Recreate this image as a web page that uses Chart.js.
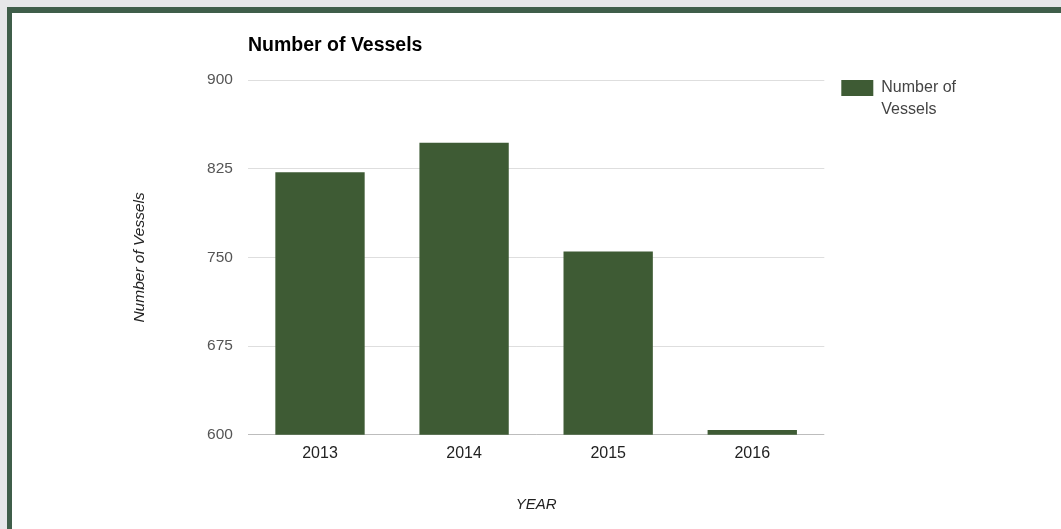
<!DOCTYPE html>
<html>
<head>
<meta charset="utf-8">
<script src="https://cdn.jsdelivr.net/npm/chart.js@4/dist/chart.umd.min.js"></script>
<style>
  html, body { margin: 0; padding: 0; }
  body { width: 1061px; height: 529px; background: #e6e7e9; overflow: hidden; position: relative; }
  .frame {
    position: absolute; left: 7px; top: 7px; right: 0; bottom: 0;
    background: #fff;
    border-left: 5px solid #3f5e4a;
    border-top: 6px solid #3f5e4a;
  }
  .box { position: absolute; left: 0; top: 0; width: 1049px; height: 516px; }
</style>
</head>
<body>
<div class="frame">
  <div class="box"><canvas id="chart"></canvas></div>
</div>
<script>
// Data
const years = ['2013', '2014', '2015', '2016'];
const vessels = [822, 847, 755, 604];
const yTicks = [600, 675, 750, 825, 900];

const FONT = "'Liberation Sans', Arial, sans-serif";
const BAR = '#3e5b34';

// nudge the legend up so the swatch lines up with the top gridline
const legendShift = {
  id: 'legendShift',
  afterLayout(chart) {
    const lg = chart.legend;
    lg.top -= 17;
    lg.bottom -= 17;
  }
};

new Chart(document.getElementById('chart'), {
  type: 'bar',
  data: {
    labels: years,
    datasets: [{
      label: 'Number of Vessels',
      data: vessels,
      backgroundColor: BAR,
      borderWidth: 0,
      barPercentage: 0.62,
      categoryPercentage: 1
    }]
  },
  options: {
    responsive: true,
    maintainAspectRatio: false,
    animation: false,
    layout: { padding: { top: 0, right: 95, bottom: 0, left: 0 } },
    scales: {
      y: {
        min: yTicks[0],
        max: yTicks[yTicks.length - 1],
        afterBuildTicks: s => { s.ticks = yTicks.map(v => ({ value: v })); },
        border: { display: false },
        grid: {
          drawTicks: false,
          color: c => c.tick && c.tick.value === yTicks[0] ? '#bdbdbd' : '#dedede'
        },
        ticks: { padding: 15, color: '#555', font: { family: FONT, size: 15.5 } },
        title: {
          display: true,
          text: 'Number of Vessels',
          color: '#222',
          font: { family: FONT, size: 15.5, style: 'italic' },
          padding: { top: 118.7, bottom: 42.8 }
        }
      },
      x: {
        border: { display: false },
        grid: { display: false, drawTicks: false },
        ticks: { padding: 9, color: '#222', font: { family: FONT, size: 16 } },
        title: {
          display: true,
          text: 'YEAR',
          color: '#222',
          font: { family: FONT, size: 15, style: 'italic' },
          padding: { top: 24, bottom: 15 }
        }
      }
    },
    plugins: {
      title: {
        display: true,
        text: 'Number of Vessels',
        align: 'start',
        fullSize: false,
        color: '#000',
        font: { family: FONT, size: 19.5, weight: 'bold' },
        padding: { top: 21.3, bottom: 22.3 }
      },
      legend: {
        position: 'right',
        align: 'start',
        fullSize: false,
        labels: {
          boxWidth: 32,
          boxHeight: 16,
          padding: 17,
          color: '#444',
          font: { family: FONT, size: 16, lineHeight: 1.375 },
          generateLabels: () => [{
            text: ['Number of', 'Vessels'],
            fillStyle: BAR,
            strokeStyle: BAR,
            fontColor: '#444',
            lineWidth: 0,
            hidden: false,
            datasetIndex: 0
          }]
        }
      },
      tooltip: { enabled: false }
    }
  },
  plugins: [legendShift]
});
</script>
</body>
</html>
